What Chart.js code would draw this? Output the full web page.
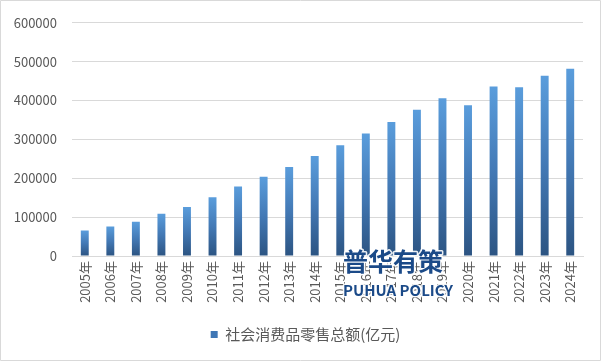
<!DOCTYPE html>
<html>
<head>
<meta charset="utf-8">
<script src="https://cdn.jsdelivr.net/npm/chart.js@4"></script>
<style>
html,body{margin:0;padding:0;background:#fff;}
#wrap{width:601px;height:361px;position:relative;}
</style>
</head>
<body>
<div id="wrap"><canvas id="c" width="601" height="361"></canvas></div>
<script>
const categories = ["2005年","2006年","2007年","2008年","2009年","2010年","2011年","2012年","2013年","2014年","2015年","2016年","2017年","2018年","2019年","2020年","2021年","2022年","2023年","2024年"];
const retailSales = [65500, 76000, 88000, 109000, 126000, 151000, 179000, 204000, 229000, 257000, 285000, 315000, 345000, 376000, 406000, 388000, 436000, 434000, 464000, 482000];
const seriesName = "社会消费品零售总额(亿元)";
const yTicks = [0, 100000, 200000, 300000, 400000, 500000, 600000];

const FONT = "'Noto Sans CJK SC', 'Noto Sans', sans-serif";

function barGradient(ctx) {
  const chart = ctx.chart;
  const y = chart.scales && chart.scales.y;
  if (!y || ctx.raw === undefined || !chart.chartArea) return '#4a86c5';
  const top = y.getPixelForValue(ctx.raw);
  const base = y.getPixelForValue(0);
  if (!isFinite(top) || !isFinite(base) || top === base) return '#4a86c5';
  const g = chart.ctx.createLinearGradient(0, top, 0, base);
  g.addColorStop(0, '#5a9ddc');
  g.addColorStop(0.5, '#4379b5');
  g.addColorStop(1, '#2c5482');
  return g;
}

const decor = {
  id: 'decor',
  afterLayout(chart) {
    if (chart.legend) {
      chart.legend.left += 14; chart.legend.right += 14;
      chart.legend.top -= 2; chart.legend.bottom -= 2;
    }
  },
  afterDraw(chart) {
    const c = chart.ctx;
    c.save();
    c.textAlign = 'left';
    c.textBaseline = 'alphabetic';
    c.lineJoin = 'round';
    c.font = "bold 25px " + FONT;
    c.strokeStyle = 'rgba(255,255,255,0.9)';
    c.lineWidth = 3;
    c.strokeText('普华有策', 343, 271);
    c.fillStyle = '#1b4a88';
    c.fillText('普华有策', 343, 271);
    c.font = "bold 15px " + FONT;
    c.strokeText('PUHUA POLICY', 343, 296);
    c.fillText('PUHUA POLICY', 343, 296);
    c.strokeStyle = '#d9d9d9';
    c.lineWidth = 1;
    c.strokeRect(0.5, 0.5, 600, 360);
    c.restore();
  }
};

new Chart(document.getElementById('c'), {
  type: 'bar',
  data: {
    labels: categories,
    datasets: [{
      label: seriesName,
      data: retailSales,
      backgroundColor: barGradient,
      borderWidth: 0,
      barPercentage: 0.31,
      categoryPercentage: 1.0
    }]
  },
  options: {
    responsive: false,
    animation: false,
    devicePixelRatio: 1,
    layout: { padding: { left: 0, right: 18, top: 8, bottom: 7 } },
    plugins: {
      tooltip: { enabled: false },
      legend: {
        position: 'bottom',
        labels: {
          font: { family: FONT, size: 15 },
          color: '#595959',
          boxWidth: 7,
          boxHeight: 7,
          padding: 12,
          generateLabels(chart) {
            return [{
              text: seriesName,
              fillStyle: '#3f77b5',
              strokeStyle: '#3f77b5',
              lineWidth: 0,
              hidden: false,
              datasetIndex: 0,
              fontColor: '#595959'
            }];
          }
        }
      }
    },
    scales: {
      x: {
        grid: { display: false, drawTicks: false },
        border: { display: true, color: '#d9d9d9' },
        ticks: {
          font: { family: FONT, size: 13 },
          color: '#595959',
          minRotation: 90,
          maxRotation: 90,
          autoSkip: false,
          padding: 5
        },
        afterFit(scale) { scale.height = 61; }
      },
      y: {
        min: 0,
        max: 600000,
        afterBuildTicks(scale) { scale.ticks = yTicks.map(v => ({ value: v })); },
        grid: { color: '#d9d9d9', drawTicks: false },
        border: { display: false },
        ticks: {
          font: { family: FONT, size: 13 },
          color: '#595959',
          padding: 15,
          callback: (v) => String(v)
        },
        afterFit(scale) { scale.width = 72; }
      }
    }
  },
  plugins: [decor]
});
</script>
</body>
</html>
